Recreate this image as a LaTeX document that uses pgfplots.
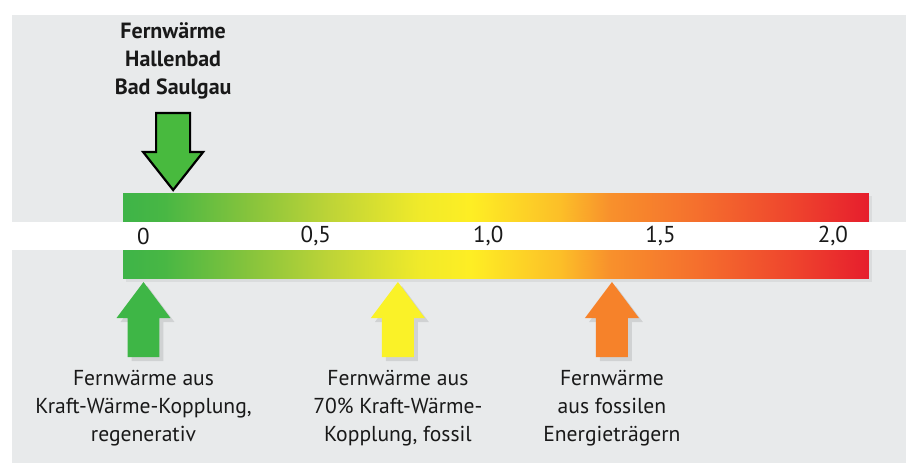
\documentclass[border=0pt]{standalone}
\usepackage{fontspec}
\setmainfont{PT Sans}
\usepackage{pgfplots}
\pgfplotsset{compat=1.18}
\definecolor{bg}{RGB}{232,234,235}
\definecolor{txt}{RGB}{25,25,25}
\definecolor{agreen}{RGB}{62,182,70}
\definecolor{topgreen}{RGB}{72,186,62}
\definecolor{ayellow}{RGB}{250,242,40}
\definecolor{aorange}{RGB}{246,130,42}
\begin{document}
\begin{tikzpicture}
\begin{axis}[
  width=453pt, height=231.5pt, scale only axis,
  xmin=-0.4163, xmax=2.2121, ymin=0, ymax=463,
  axis lines=none, clip=false,
  colormap={fw}{rgb255(0pt)=(62,180,72); rgb255(11.9pt)=(72,183,68); rgb255(36.9pt)=(135,196,60);
    rgb255(59.9pt)=(190,212,55); rgb255(85.9pt)=(240,234,42); rgb255(100.9pt)=(254,238,36);
    rgb255(126.9pt)=(252,190,40); rgb255(140.9pt)=(248,145,44); rgb255(165.9pt)=(245,112,45);
    rgb255(195.9pt)=(238,66,45); rgb255(216.1pt)=(230,30,45)},
  point meta min=-0.059, point meta max=2.102,
]
% page and background
\path[fill=white] (rel axis cs:0,0) rectangle (rel axis cs:1,1);
\addplot[fill=bg, draw=none] coordinates {(-0.3815,0) (2.2121,0) (2.2121,448) (-0.3815,448)} --cycle;
% shadow of the bar
\addplot[fill=black, opacity=0.06, draw=none] coordinates {(-0.052,181) (2.112,181) (2.112,267) (-0.052,267)} --cycle;
% gradient scale
\addplot[surf, shader=interp, mesh/rows=2, point meta=x] coordinates {
(-0.059,185) (0.06,185) (0.31,185) (0.54,185) (0.8,185) (0.95,185) (1.21,185) (1.35,185) (1.6,185) (1.9,185) (2.102,185)
(-0.059,270) (0.06,270) (0.31,270) (0.54,270) (0.8,270) (0.95,270) (1.21,270) (1.35,270) (1.6,270) (1.9,270) (2.102,270)
};
% white band
\addplot[fill=white, draw=none] coordinates {(-0.3815,213) (2.2121,213) (2.2121,241) (-0.3815,241)} --cycle;
% tick labels
\foreach \v/\l in {0/0,0.5/{0,5},1/{1,0},1.5/{1,5},2/{2,0}}{
  \edef\tmp{\noexpand\node[text=txt, font=\noexpand\fontsize{11.5}{13}\noexpand\selectfont] at (axis cs:\v,227) {\l};}
  \tmp
}
% arrow shadows
\addplot[fill=black, opacity=0.10, draw=none] coordinates {(-0.0348,102) (0.0580,102) (0.0580,141) (0.0899,141) (0.0116,177) (-0.0667,141) (-0.0348,141)} --cycle;
\addplot[fill=black, opacity=0.10, draw=none] coordinates {(0.7032,102) (0.7960,102) (0.7960,141) (0.8279,141) (0.7496,177) (0.6713,141) (0.7032,141)} --cycle;
\addplot[fill=black, opacity=0.10, draw=none] coordinates {(1.3242,102) (1.4170,102) (1.4170,141) (1.4489,141) (1.3706,177) (1.2923,141) (1.3242,141)} --cycle;
% bottom arrows
\addplot[fill=agreen, draw=none] coordinates {(-0.0464,106) (0.0464,106) (0.0464,145) (0.0783,145) (0,181) (-0.0783,145) (-0.0464,145)} --cycle;
\addplot[fill=ayellow, draw=none] coordinates {(0.6916,106) (0.7844,106) (0.7844,145) (0.8163,145) (0.738,181) (0.6597,145) (0.6916,145)} --cycle;
\addplot[fill=aorange, draw=none] coordinates {(1.3126,106) (1.4054,106) (1.4054,145) (1.4373,145) (1.359,181) (1.2807,145) (1.3126,145)} --cycle;
% top arrow
\addplot[fill=topgreen, draw=black, line width=1.1pt, line join=miter] coordinates {(0.0367,350) (0.1353,350) (0.1353,311) (0.173,311) (0.086,273) (-0.001,311) (0.0367,311)} --cycle;
% texts
\node[text=txt, align=center, font=\fontsize{11}{14}\selectfont\bfseries] at (axis cs:0.086,402) {Fernwärme\\Hallenbad\\Bad Saulgau};
\node[text=txt, align=center, font=\fontsize{10.8}{14}\selectfont] at (axis cs:0,55) {Fernwärme aus\\Kraft-Wärme-Kopplung,\\regenerativ};
\node[text=txt, align=center, font=\fontsize{10.8}{14}\selectfont] at (axis cs:0.738,55) {Fernwärme aus\\70\% Kraft-Wärme-\\Kopplung, fossil};
\node[text=txt, align=center, font=\fontsize{10.8}{14}\selectfont] at (axis cs:1.359,55) {Fernwärme\\aus fossilen\\Energieträgern};
\end{axis}
\end{tikzpicture}
\end{document}
